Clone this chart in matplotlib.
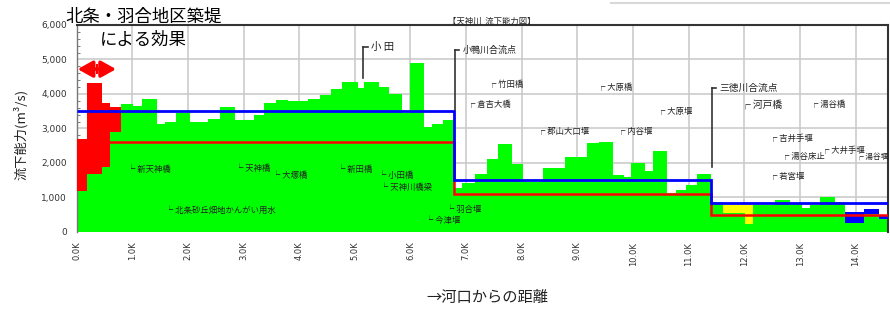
import matplotlib
matplotlib.use('Agg')
import matplotlib.pyplot as plt
import numpy as np

plt.rcParams['font.family'] = ['Noto Sans CJK JP', 'DejaVu Sans']

# ---- data (distance from river mouth in km, flow capacity in m3/s) ----
edges = [0.00, 0.18, 0.46, 0.61, 0.79, 1.02, 1.17, 1.44, 1.59, 1.79, 2.03, 2.37, 2.58, 2.84,
         3.18, 3.36, 3.59, 3.80, 4.16, 4.37, 4.57, 4.77, 5.05, 5.17, 5.44, 5.62, 5.85, 6.00,
         6.25, 6.38, 6.59, 6.79, 6.92, 7.16, 7.37, 7.58, 7.82, 8.03, 8.38, 8.78, 9.17, 9.39,
         9.63, 9.84, 9.97, 10.22, 10.36, 10.61, 10.77, 10.95, 11.15, 11.40, 11.61, 12.01,
         12.16, 12.55, 12.82, 13.03, 13.17, 13.36, 13.63, 13.81, 14.15, 14.41, 14.60]
green = [1200, 1680, 1890, 2910, 3710, 3650, 3855, 3130, 3200, 3440, 3180, 3265, 3630, 3245,
         3400, 3730, 3826, 3800, 3855, 3970, 4145, 4340, 4165, 4350, 4215, 4000, 3440, 4890,
         3035, 3130, 3245, 1270, 1420, 1680, 2107, 2550, 1970, 1460, 1845, 2183, 2570,
         2618, 1652, 1585, 2010, 1780, 2348, 1140, 1217, 1362, 1672, 878, 560,
         232, 783, 920, 800, 687, 770, 1020, 878, 270, 522, 368]

# levee effect (red), shortfall bands (yellow, blue)
red_edges = [0.00, 0.18, 0.46, 0.61, 0.79]
red_bottom = [1200, 1680, 1890, 2910]
red_top = [2700, 4310, 3750, 3610]
yellow_edges = [11.61, 12.01, 12.16]
yellow_bottom = [560, 232]
yellow_top = [783, 783]
blue_edges = [13.81, 14.15, 14.41, 14.60]
blue_bottom = [270, 522, 368]
blue_top = [590, 657, 464]

# design flow lines
line_edges = [0.00, 6.79, 11.40, 14.60]
blue_line = [3500, 1500, 850]
red_line = [2600, 1100, 500]

xticks = list(range(0, 15))
xticklabels = [f"{k}.0K" for k in xticks]
yticks = [0, 1000, 2000, 3000, 4000, 5000, 6000]
yticklabels = ["0", "1,000", "2,000", "3,000", "4,000", "5,000", "6,000"]

labels = [
    ("新天神橋", 0.91, 1826, "L"),
    ("北条砂丘畑地かんがい用水", 1.59, 638, "L"),
    ("天神橋", 2.85, 1826, "L"),
    ("大塚橋", 3.51, 1652, "L"),
    ("新田橋", 4.68, 1826, "L"),
    ("小田橋", 5.42, 1623, "L"),
    ("天神川橋梁", 5.45, 1304, "L"),
    ("羽合堰", 6.64, 638, "L"),
    ("今津堰", 6.26, 333, "L"),
    ("竹田橋", 7.40, 4261, "F"),
    ("倉吉大橋", 7.02, 3681, "F"),
    ("郡山大口堰", 8.27, 2899, "F"),
    ("大原橋", 9.35, 4174, "F"),
    ("大原堰", 10.43, 3478, "F"),
    ("内谷堰", 9.71, 2899, "F"),
    ("河戸橋", 11.94, 3681, "F"),
    ("湯谷橋", 13.18, 3681, "F"),
    ("吉井手堰", 12.44, 2725, "F"),
    ("湯谷床止", 12.66, 2174, "F"),
    ("大井手堰", 13.38, 2377, "F"),
    ("湯谷堰", 14.00, 2174, "F"),
    ("若宮堰", 12.44, 1594, "F"),
]
leaders = [
    ("小 田", 5.15, 5362, 4455, 7.5),
    ("小鴨川合流点", 6.80, 5275, 3536, 6.5),
    ("三徳川合流点", 11.41, 4174, 1893, 7.0),
]

# ---- figure ----
fig = plt.figure(figsize=(8.9, 3.09), dpi=100)
ax = fig.add_axes([0.086, 0.2492, 0.9118, 0.67])

ax.stairs(green, edges, fill=True, color='#00ff00', zorder=2)
ax.stairs(red_top, red_edges, baseline=red_bottom, fill=True, color='#ff0000', zorder=3)
ax.stairs(yellow_top, yellow_edges, baseline=yellow_bottom, fill=True, color='#ffff00', zorder=3)
ax.stairs(blue_top, blue_edges, baseline=blue_bottom, fill=True, color='#0000ff', zorder=3)

ax.stairs(red_line, line_edges, baseline=None, color='#ff0000', lw=1.8, zorder=4)
ax.stairs(blue_line, line_edges, baseline=None, color='#0000ff', lw=2.0, zorder=5)

ax.set_xlim(0, 14.58)
ax.set_ylim(0, 6000)
ax.set_xticks(xticks)
ax.set_xticklabels(xticklabels, rotation=90, fontsize=6, color='#333333', family='DejaVu Sans')
ax.set_yticks(yticks)
ax.set_yticklabels(yticklabels, fontsize=6.5, color='#333333', family='DejaVu Sans')
ax.set_yticks(np.arange(0, 6001, 200), minor=True)
ax.tick_params(axis='both', which='major', length=0, pad=7)
ax.tick_params(axis='y', which='minor', direction='in', length=2, color='#666666')
ax.tick_params(axis='x', which='minor', length=0)
ax.grid(True, color='#c8c8c8', lw=1.1, zorder=0)
ax.set_axisbelow(True)
for s in ['top', 'right']:
    ax.spines[s].set_color('#333333')
    ax.spines[s].set_linewidth(1.5)
ax.spines['left'].set_color('#777777')
ax.spines['left'].set_linewidth(1.0)
ax.spines['bottom'].set_visible(False)

# place labels
for name, x, y, kind in labels:
    hook = "└" if kind == "L" else "┌"
    fs = 7 if name == "河戸橋" else (5.5 if name == "湯谷堰" else 6)
    ax.text(x, y, hook + " " + name, fontsize=fs, color='#222222', va='center', ha='left',
            zorder=6, clip_on=False)

for name, x, ytop, ybot, fs in leaders:
    ax.plot([x, x], [ytop, ybot], color='#333333', lw=1.2, zorder=6)
    ax.plot([x, x + 0.08], [ytop, ytop], color='#333333', lw=1.2, zorder=6)
    ax.text(x + 0.14, ytop, name, fontsize=fs, color='#222222', va='center', ha='left', zorder=6)

# levee effect arrow (two outward heads)
ax.annotate('', xy=(0.02, 4720), xytext=(0.36, 4720),
            arrowprops=dict(arrowstyle='-|>,head_length=0.9,head_width=0.5',
                            color='#ff0000', lw=2.5, shrinkA=0, shrinkB=0), zorder=7)
ax.annotate('', xy=(0.71, 4720), xytext=(0.36, 4720),
            arrowprops=dict(arrowstyle='-|>,head_length=0.9,head_width=0.5',
                            color='#ff0000', lw=2.5, shrinkA=0, shrinkB=0), zorder=7)
ax.plot([0.36, 0.36], [4600, 4840], color='#ff0000', lw=1.5, zorder=7)

fig.text(0.161, 0.946, "北条・羽合地区築堤", fontsize=12.5, ha='center', va='center')
fig.text(0.161, 0.871, "による効果", fontsize=12.5, ha='center', va='center')
fig.text(0.553, 0.932, "【天神川  流下能力図】", fontsize=6, ha='center', va='center', color='#222222')
fig.text(0.0236, 0.566, "流下能力(m³/s)", fontsize=9.5, rotation=90, ha='center', va='center',
         color='#222222')
fig.text(0.548, 0.036, "→河口からの距離", fontsize=11, ha='center', va='center', color='#222222')
fig.add_artist(plt.Line2D([0.687, 1.0], [0.99, 0.99], color='#d8d8d8', lw=1.5))

fig.savefig('out.png', dpi=100)
